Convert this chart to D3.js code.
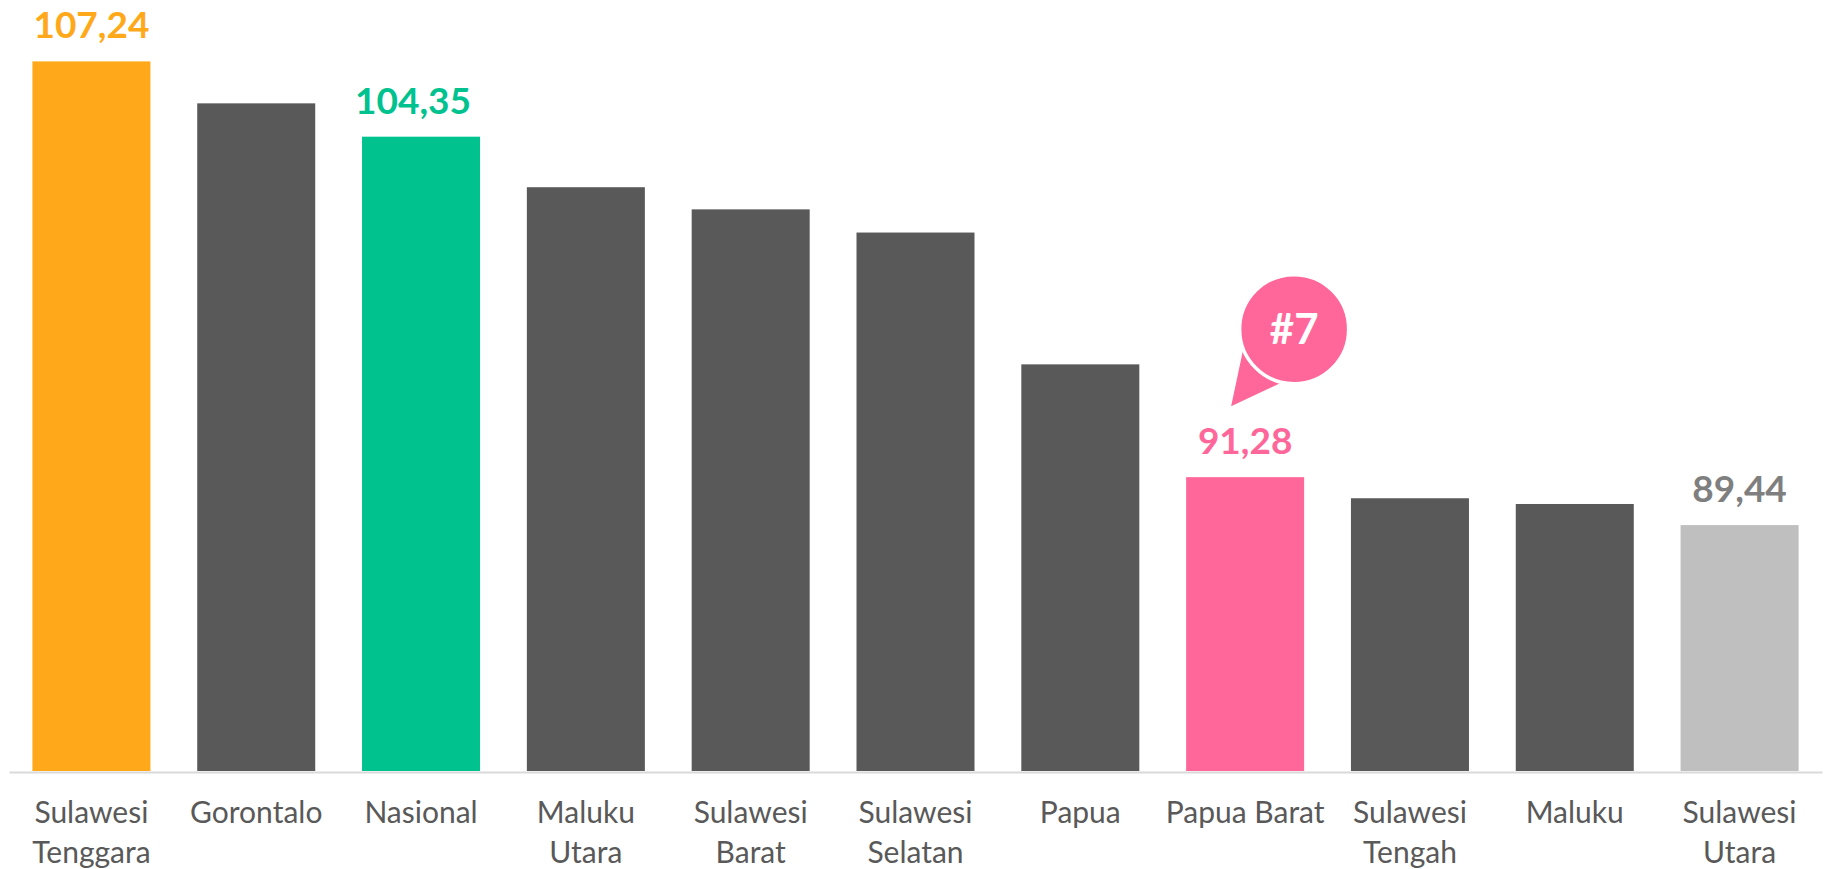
<!DOCTYPE html>
<html>
<head>
<meta charset="utf-8">
<script src="https://cdn.jsdelivr.net/npm/d3@7"></script>
<style>
  html, body { margin: 0; padding: 0; background: #ffffff; }
  svg { display: block; }
</style>
</head>
<body>
<svg id="chart" width="1828" height="869"></svg>
<script>
// ---- data ----
const categories = [
  ["Sulawesi", "Tenggara"],
  ["Gorontalo"],
  ["Nasional"],
  ["Maluku", "Utara"],
  ["Sulawesi", "Barat"],
  ["Sulawesi", "Selatan"],
  ["Papua"],
  ["Papua Barat"],
  ["Sulawesi", "Tengah"],
  ["Maluku"],
  ["Sulawesi", "Utara"]
];
const values = [107.24, 105.63, 104.35, 102.41, 101.56, 100.67, 95.61, 91.28, 90.47, 90.25, 89.44];
const barColors = ["#FFA91A", "#595959", "#00C28F", "#595959", "#595959", "#595959", "#595959", "#FF6699", "#595959", "#595959", "#BFBFBF"];
const valueLabels = ["107,24", null, "104,35", null, null, null, null, "91,28", null, null, "89,44"];
const labelColors = ["#FFA91A", null, "#00C28F", null, null, null, null, "#FF6699", null, null, "#7F7F7F"];
const yDomain = [80, 110];
const highlightIndex = 7;
const highlightText = "#7";

// ---- layout ----
const svg = d3.select("#chart");
const baseY = 771;
const pxPerUnit = 26.05;
const keys = d3.range(categories.length);
// the "Nasional" value label sits slightly left of its bar centre in the reference
const labelShift = i => (i === 2 ? -8 : 0);

const x = d3.scaleBand()
  .domain(keys)
  .range([9, 1822])
  .paddingInner(0.284)
  .paddingOuter(0.142);

const y = d3.scaleLinear()
  .domain(yDomain)
  .range([baseY, baseY - (yDomain[1] - yDomain[0]) * pxPerUnit]);

// bars
svg.append("g").selectAll("rect")
  .data(keys)
  .join("rect")
  .attr("x", i => x(i))
  .attr("y", i => y(values[i]))
  .attr("width", x.bandwidth())
  .attr("height", i => baseY - y(values[i]))
  .attr("fill", i => barColors[i]);

// axis line via d3 axis (no ticks)
const xAxis = d3.axisBottom(x).tickSize(0).tickFormat(() => "");
const axisG = svg.append("g").attr("transform", `translate(0,${baseY})`).call(xAxis);
axisG.select(".domain").attr("stroke", "#D9D9D9").attr("stroke-width", 2).attr("transform", "translate(0,1)");

// category labels
const catG = svg.append("g");
keys.forEach(i => {
  const t = catG.append("text")
    .attr("x", x(i) + x.bandwidth() / 2)
    .attr("y", 823)
    .attr("text-anchor", "middle")
    .attr("font-family", "Lato, 'Open Sans', sans-serif")
    .attr("font-size", 30)
    .attr("fill", "#595959");
  categories[i].forEach((line, k) => {
    t.append("tspan")
      .attr("x", x(i) + x.bandwidth() / 2)
      .attr("dy", k === 0 ? 0 : 39.5)
      .text(line);
  });
});

// value labels
svg.append("g").selectAll("text")
  .data(keys.filter(i => valueLabels[i]))
  .join("text")
  .attr("x", i => x(i) + x.bandwidth() / 2 + labelShift(i))
  .attr("y", i => y(values[i]) - 23)
  .attr("text-anchor", "middle")
  .attr("font-family", "Lato, 'Open Sans', sans-serif")
  .attr("font-weight", "bold")
  .attr("font-size", 37)
  .attr("fill", i => labelColors[i])
  .text(i => valueLabels[i]);

// highlight bubble
const hi = highlightIndex;
const bx = x(hi) + x.bandwidth() / 2;
const by = y(values[hi]);
const cx = bx + 49, cy = by - 148, r = 54.5;
const tip = [bx - 14, by - 71];
const a1 = 158.8 * Math.PI / 180, a2 = 102.7 * Math.PI / 180;
const p1 = [cx + r * Math.cos(a1), cy + r * Math.sin(a1)];
const p2 = [cx + r * Math.cos(a2), cy + r * Math.sin(a2)];
const bub = svg.append("g");
bub.append("path")
  .attr("d", d3.line()([tip, p1, [cx, cy], p2]) + "Z")
  .attr("fill", "#FF6699");
bub.append("circle")
  .attr("cx", cx).attr("cy", cy).attr("r", r)
  .attr("fill", "#FF6699")
  .attr("stroke", "#ffffff")
  .attr("stroke-width", 3.5);
bub.append("text")
  .attr("x", cx)
  .attr("y", cy + 15)
  .attr("text-anchor", "middle")
  .attr("font-family", "Lato, 'Open Sans', sans-serif")
  .attr("font-weight", "bold")
  .attr("font-size", 42)
  .attr("fill", "#ffffff")
  .text(highlightText);
</script>
</body>
</html>
